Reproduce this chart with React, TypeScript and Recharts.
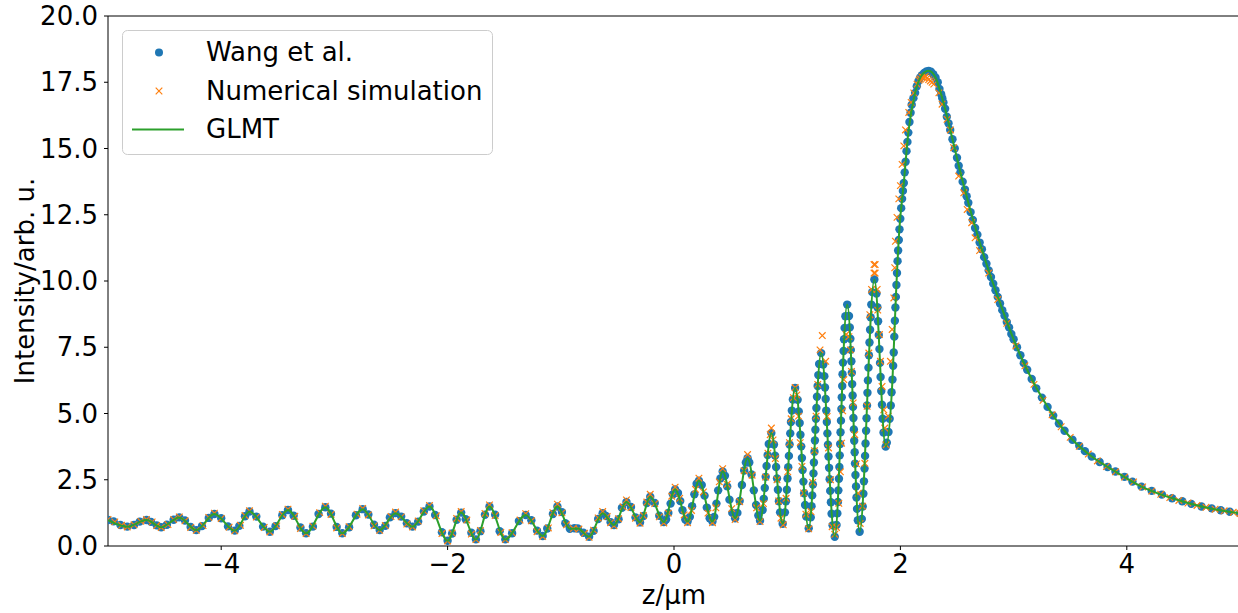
import { ComposedChart, Line, ReferenceLine, Scatter, XAxis, YAxis } from "recharts";

const FONT = '"DejaVu Sans", sans-serif';
const BLUE = "#1f77b4";
const ORANGE = "#ff7f0e";
const GREEN = "#2ca02c";

const xTicks = [-4, -2, 0, 2, 4];
const yTicks = [0, 2.5, 5, 7.5, 10, 12.5, 15, 17.5, 20];

// GLMT curve, [z (µm), intensity]
const glmtCurve: [number, number][] = [
  [-5.0, 0.98], [-4.83, 0.73], [-4.66, 0.98], [-4.53, 0.71], [-4.37, 1.08], [-4.22, 0.6],
  [-4.06, 1.21], [-3.88, 0.58], [-3.75, 1.3], [-3.57, 0.54], [-3.41, 1.36], [-3.25, 0.48],
  [-3.08, 1.46], [-2.93, 0.48], [-2.75, 1.39], [-2.6, 0.6], [-2.46, 1.24], [-2.31, 0.73],
  [-2.16, 1.49], [-2.0, 0.2], [-1.88, 1.26], [-1.75, 0.25], [-1.63, 1.49], [-1.49, 0.25],
  [-1.31, 1.17], [-1.16, 0.38], [-1.03, 1.49], [-0.92, 0.65], [-0.85, 0.66], [-0.75, 0.35],
  [-0.63, 1.24], [-0.53, 0.79], [-0.42, 1.66], [-0.3, 0.89], [-0.21, 1.86], [-0.09, 0.9],
  [0.01, 2.13], [0.12, 0.92], [0.22, 2.46], [0.34, 0.92], [0.43, 2.81], [0.54, 1.05],
  [0.65, 3.31], [0.76, 0.95], [0.86, 4.26], [0.96, 0.84], [1.07, 5.96], [1.19, 0.67],
  [1.3, 7.28], [1.42, 0.35], [1.53, 9.11], [1.64, 0.54], [1.77, 10.06], [1.87, 3.75],
  [1.93, 6.28], [1.96, 9.4], [1.99, 11.9], [2.03, 13.7], [2.07, 15.6], [2.13, 17.1],
  [2.19, 17.77], [2.25, 17.93], [2.31, 17.68], [2.38, 16.74], [2.46, 15.35], [2.53, 14.1],
  [2.6, 12.95], [2.68, 11.75], [2.76, 10.65], [2.84, 9.65], [2.92, 8.7], [3.0, 7.8],
  [3.08, 7.0], [3.16, 6.3], [3.25, 5.6], [3.37, 4.8], [3.52, 4.01], [3.69, 3.38],
  [3.9, 2.81], [4.13, 2.24], [4.4, 1.8], [4.66, 1.49], [5.0, 1.23],
];

// Wang et al. points
const wangLeft: [number, number][] = [
  [-5.0, 0.98], [-4.95, 0.93], [-4.89, 0.79], [-4.83, 0.73], [-4.77, 0.79], [-4.72, 0.92],
  [-4.66, 0.98], [-4.62, 0.91], [-4.57, 0.78], [-4.53, 0.71], [-4.48, 0.8], [-4.42, 0.99],
  [-4.37, 1.08], [-4.32, 0.96], [-4.27, 0.72], [-4.22, 0.6], [-4.17, 0.75], [-4.11, 1.06],
  [-4.06, 1.21], [-4.0, 1.05], [-3.94, 0.74], [-3.88, 0.58], [-3.84, 0.76], [-3.79, 1.12],
  [-3.75, 1.3], [-3.69, 1.11], [-3.63, 0.73], [-3.57, 0.54], [-3.52, 0.75], [-3.46, 1.16],
  [-3.41, 1.36], [-3.36, 1.14], [-3.3, 0.7], [-3.25, 0.48], [-3.19, 0.73], [-3.14, 1.21],
  [-3.08, 1.46], [-3.03, 1.22], [-2.98, 0.72], [-2.93, 0.48], [-2.87, 0.71], [-2.81, 1.16],
  [-2.75, 1.39], [-2.7, 1.19], [-2.65, 0.8], [-2.6, 0.6], [-2.55, 0.76], [-2.51, 1.08],
  [-2.46, 1.24], [-2.41, 1.11], [-2.36, 0.86], [-2.31, 0.73], [-2.26, 0.92], [-2.21, 1.3],
  [-2.16, 1.49], [-2.11, 1.17], [-2.05, 0.52], [-2.0, 0.2], [-1.96, 0.47], [-1.92, 0.99],
  [-1.88, 1.26], [-1.84, 1.01], [-1.79, 0.5], [-1.75, 0.25], [-1.71, 0.56], [-1.67, 1.18],
  [-1.63, 1.49], [-1.58, 1.18], [-1.54, 0.56], [-1.49, 0.25], [-1.43, 0.48], [-1.37, 0.94],
  [-1.31, 1.17], [-1.26, 0.97], [-1.21, 0.58], [-1.16, 0.38], [-1.12, 0.66], [-1.07, 1.21],
  [-1.03, 1.49], [-0.99, 1.28], [-0.96, 0.86], [-0.92, 0.65], [-0.88, 0.67], [-0.85, 0.66],
  [-0.8, 0.5], [-0.75, 0.35], [-0.71, 0.57], [-0.67, 1.02], [-0.63, 1.24], [-0.6, 1.13],
  [-0.56, 0.9], [-0.53, 0.79], [-0.49, 1.01], [-0.46, 1.44], [-0.42, 1.66], [-0.38, 1.47],
  [-0.34, 1.08], [-0.3, 0.89], [-0.27, 1.13], [-0.24, 1.62], [-0.21, 1.86], [-0.17, 1.62],
  [-0.13, 1.14], [-0.09, 0.9], [-0.07, 1.0], [-0.05, 1.25], [-0.03, 1.6], [-0.01, 1.95],
  [0.01, 2.13], [0.035, 2.0], [0.055, 1.7], [0.075, 1.35], [0.1, 1.0], [0.12, 0.92],
  [0.14, 1.1], [0.16, 1.5], [0.18, 1.95], [0.2, 2.35], [0.22, 2.46], [0.245, 2.3],
  [0.27, 1.9], [0.29, 1.45], [0.315, 1.05], [0.34, 0.92], [0.355, 1.1], [0.375, 1.6],
  [0.39, 2.1], [0.41, 2.55], [0.43, 2.81], [0.45, 2.65], [0.47, 2.25], [0.49, 1.75],
  [0.515, 1.25], [0.54, 1.05], [0.56, 1.25], [0.58, 1.7], [0.6, 2.3], [0.62, 2.85],
  [0.635, 3.15], [0.65, 3.31], [0.665, 3.15], [0.685, 2.7], [0.705, 2.1], [0.725, 1.55],
  [0.745, 1.15],
];

const wangSteep: [number, number][] = [
  [0.76, 0.95], [0.783, 1.36], [0.793, 1.78], [0.802, 2.19], [0.81, 2.61], [0.818, 3.02], [0.827, 3.43], [0.837, 3.85],
  [0.86, 4.26], [0.883, 3.83], [0.893, 3.41], [0.902, 2.98], [0.91, 2.55], [0.918, 2.12], [0.927, 1.69], [0.937, 1.27],
  [0.96, 0.84], [0.98, 1.27], [0.989, 1.69], [0.997, 2.12], [1.003, 2.55], [1.009, 2.97], [1.015, 3.4], [1.021, 3.83],
  [1.027, 4.25], [1.033, 4.68], [1.041, 5.11], [1.05, 5.53],
  [1.07, 5.96], [1.092, 5.52], [1.102, 5.08], [1.11, 4.64], [1.117, 4.2], [1.124, 3.76], [1.13, 3.32], [1.136, 2.87],
  [1.143, 2.43], [1.15, 1.99], [1.158, 1.55], [1.168, 1.11],
  [1.19, 0.67], [1.208, 1.08], [1.215, 1.5], [1.221, 1.91], [1.227, 2.32], [1.232, 2.74], [1.236, 3.15], [1.241, 3.56],
  [1.245, 3.98], [1.249, 4.39], [1.254, 4.8], [1.258, 5.21], [1.263, 5.63], [1.269, 6.04], [1.275, 6.45], [1.282, 6.87],
  [1.3, 7.28], [1.319, 6.85], [1.328, 6.41], [1.334, 5.98], [1.34, 5.55], [1.345, 5.11], [1.35, 4.68], [1.355, 4.25],
  [1.36, 3.82], [1.365, 3.38], [1.37, 2.95], [1.375, 2.52], [1.38, 2.08], [1.386, 1.65], [1.392, 1.22], [1.401, 0.78],
  [1.42, 0.35], [1.436, 0.79], [1.443, 1.23], [1.448, 1.66], [1.452, 2.1], [1.457, 2.54], [1.461, 2.98], [1.464, 3.42],
  [1.468, 3.85], [1.471, 4.29], [1.475, 4.73], [1.479, 5.17], [1.482, 5.61], [1.486, 6.04], [1.489, 6.48], [1.493, 6.92],
  [1.498, 7.36], [1.502, 7.8], [1.507, 8.23], [1.514, 8.67],
  [1.53, 9.11], [1.546, 8.68], [1.553, 8.25], [1.558, 7.82], [1.562, 7.4], [1.567, 6.97], [1.571, 6.54], [1.574, 6.11],
  [1.578, 5.68], [1.581, 5.25], [1.585, 4.83], [1.589, 4.4], [1.592, 3.97], [1.596, 3.54], [1.599, 3.11], [1.603, 2.68],
  [1.608, 2.25], [1.612, 1.83], [1.617, 1.4], [1.624, 0.97],
  [1.64, 0.54], [1.659, 1.02], [1.667, 1.49], [1.673, 1.97], [1.678, 2.44], [1.683, 2.92], [1.688, 3.4], [1.692, 3.87],
  [1.697, 4.35], [1.701, 4.82], [1.705, 5.3], [1.709, 5.78], [1.713, 6.25], [1.718, 6.73], [1.722, 7.2], [1.727, 7.68],
  [1.732, 8.16], [1.737, 8.63], [1.743, 9.11], [1.751, 9.58],
  [1.77, 10.06], [1.789, 9.53], [1.797, 9.01], [1.803, 8.48], [1.809, 7.96], [1.815, 7.43], [1.82, 6.91], [1.825, 6.38],
  [1.831, 5.85], [1.837, 5.33], [1.843, 4.8], [1.851, 4.28],
  [1.87, 3.75], [1.88, 3.9], [1.895, 4.3], [1.905, 4.8], [1.915, 5.3], [1.922, 5.8], [1.93, 6.28], [1.936, 6.8],
  [1.941, 7.3], [1.946, 7.9], [1.951, 8.5], [1.956, 9.0], [1.96, 9.4], [1.965, 9.85], [1.97, 10.3], [1.975, 10.75],
  [1.98, 11.15], [1.986, 11.55], [1.992, 11.95], [1.999, 12.35], [2.007, 12.75], [2.015, 13.1], [2.022, 13.4], [2.03, 13.7],
  [2.038, 14.1], [2.046, 14.5], [2.054, 14.9], [2.062, 15.25], [2.07, 15.6], [2.08, 16.0], [2.09, 16.35], [2.1, 16.65],
  [2.115, 16.9], [2.13, 17.1], [2.145, 17.35], [2.16, 17.55], [2.175, 17.68], [2.19, 17.77], [2.21, 17.85], [2.23, 17.91],
  [2.25, 17.93], [2.27, 17.9], [2.29, 17.8], [2.31, 17.68],
];

const wangTail: [number, number][] = [
  [2.33, 17.5], [2.345, 17.25], [2.36, 17.05], [2.37, 16.9], [2.38, 16.74], [2.395, 16.5], [2.41, 16.2], [2.425, 15.95],
  [2.44, 15.7], [2.46, 15.35], [2.48, 15.0], [2.5, 14.65], [2.515, 14.35], [2.53, 14.1], [2.55, 13.75], [2.57, 13.45],
  [2.585, 13.2], [2.6, 12.95], [2.62, 12.6], [2.64, 12.3], [2.66, 12.0], [2.68, 11.75], [2.7, 11.45], [2.72, 11.2],
  [2.74, 10.9], [2.76, 10.65], [2.78, 10.4], [2.8, 10.15], [2.82, 9.9], [2.84, 9.65], [2.86, 9.4], [2.88, 9.15],
  [2.9, 8.9], [2.92, 8.7], [2.94, 8.45], [2.96, 8.25], [2.98, 8.0], [3.0, 7.8], [3.03, 7.5], [3.06, 7.2],
  [3.09, 6.9], [3.12, 6.65], [3.16, 6.3], [3.2, 5.95], [3.25, 5.6], [3.3, 5.25], [3.35, 4.92], [3.4, 4.62],
  [3.45, 4.35], [3.52, 4.01], [3.58, 3.78], [3.63, 3.58], [3.69, 3.38], [3.76, 3.17], [3.83, 2.98], [3.9, 2.81],
  [3.98, 2.61], [4.05, 2.43], [4.13, 2.24], [4.22, 2.08], [4.31, 1.94], [4.4, 1.8], [4.49, 1.69], [4.57, 1.59],
  [4.66, 1.49], [4.75, 1.42], [4.83, 1.35], [4.91, 1.29], [5.0, 1.23],
];

// Numerical simulation points
const simLeft: [number, number][] = [
  [-5.0, 1.0], [-4.94, 0.91], [-4.88, 0.78], [-4.83, 0.72], [-4.77, 0.8], [-4.71, 0.93],
  [-4.66, 1.0], [-4.61, 0.91], [-4.57, 0.77], [-4.53, 0.7], [-4.47, 0.81], [-4.42, 1.0],
  [-4.37, 1.1], [-4.32, 0.95], [-4.27, 0.7], [-4.22, 0.59], [-4.16, 0.77], [-4.11, 1.08],
  [-4.06, 1.24], [-4.0, 1.04], [-3.93, 0.71], [-3.88, 0.57], [-3.83, 0.78], [-3.79, 1.15],
  [-3.75, 1.33], [-3.69, 1.09], [-3.62, 0.7], [-3.57, 0.53], [-3.51, 0.76], [-3.46, 1.19],
  [-3.41, 1.39], [-3.35, 1.12], [-3.3, 0.66], [-3.25, 0.47], [-3.19, 0.75], [-3.13, 1.26],
  [-3.08, 1.5], [-3.03, 1.19], [-2.98, 0.68], [-2.93, 0.47], [-2.87, 0.73], [-2.8, 1.2],
  [-2.75, 1.42], [-2.7, 1.17], [-2.65, 0.76], [-2.6, 0.59], [-2.55, 0.77], [-2.5, 1.11],
  [-2.46, 1.28], [-2.41, 1.1], [-2.36, 0.83], [-2.31, 0.72], [-2.26, 0.94], [-2.21, 1.33],
  [-2.16, 1.53], [-2.1, 1.14], [-2.05, 0.47], [-2.0, 0.19], [-1.96, 0.49], [-1.92, 1.04],
  [-1.88, 1.3], [-1.83, 0.98], [-1.79, 0.45], [-1.75, 0.24], [-1.71, 0.59], [-1.67, 1.23],
  [-1.63, 1.55], [-1.58, 1.15], [-1.53, 0.51], [-1.49, 0.24], [-1.43, 0.5], [-1.36, 0.98],
  [-1.31, 1.22], [-1.26, 0.95], [-1.21, 0.54], [-1.16, 0.36], [-1.11, 0.68], [-1.07, 1.26],
  [-1.03, 1.58], [-0.99, 1.25], [-0.95, 0.8], [-0.89, 0.66], [-0.84, 0.64], [-0.79, 0.48],
  [-0.75, 0.33], [-0.71, 0.6], [-0.67, 1.06], [-0.63, 1.3], [-0.59, 1.11], [-0.56, 0.88],
  [-0.53, 0.76], [-0.49, 1.03], [-0.45, 1.48], [-0.42, 1.74], [-0.38, 1.45], [-0.34, 1.05],
  [-0.3, 0.86], [-0.27, 1.15], [-0.24, 1.66], [-0.21, 1.95], [-0.17, 1.6], [-0.13, 1.1],
  [-0.09, 0.87], [-0.05, 1.24], [-0.02, 1.88], [0.01, 2.22], [0.05, 1.8], [0.09, 1.17],
  [0.12, 0.88], [0.155, 1.34], [0.19, 2.14], [0.22, 2.56], [0.26, 2.04], [0.3, 1.24],
  [0.34, 0.88], [0.37, 1.44], [0.4, 2.42], [0.43, 2.92], [0.47, 2.33], [0.51, 1.41],
  [0.54, 1.0], [0.58, 1.67], [0.62, 2.84], [0.65, 3.45], [0.69, 2.67], [0.73, 1.44],
];

const simSteep: [number, number][] = [
  [0.76, 0.92], [0.79, 1.6], [0.81, 2.6], [0.83, 3.5], [0.85, 4.2], [0.86, 4.45],
  [0.875, 4.0], [0.895, 3.3], [0.91, 2.5], [0.925, 1.7], [0.945, 1.05],
  [0.965, 0.8], [0.99, 1.8], [1.005, 2.8], [1.02, 3.9], [1.035, 4.8], [1.055, 5.6], [1.07, 5.98],
  [1.085, 5.7], [1.1, 4.9], [1.115, 3.9], [1.13, 3.0], [1.145, 2.0], [1.165, 1.2], [1.19, 0.65],
  [1.21, 1.3], [1.225, 2.4], [1.24, 3.6], [1.255, 4.9], [1.27, 6.1], [1.29, 7.4], [1.31, 7.94],
  [1.34, 6.97], [1.353, 4.89], [1.365, 3.7], [1.383, 2.5], [1.397, 0.73], [1.42, 0.44],
  [1.435, 0.7], [1.456, 1.61], [1.47, 2.8], [1.48, 3.88], [1.49, 5.1], [1.5, 6.28], [1.52, 7.98],
  [1.545, 7.9], [1.558, 7.4], [1.568, 6.59], [1.583, 5.4], [1.597, 4.2], [1.612, 3.1], [1.627, 1.99], [1.645, 0.85],
  [1.665, 1.5], [1.686, 3.12], [1.706, 5.27], [1.721, 7.28], [1.73, 8.73], [1.745, 9.68],
  [1.767, 10.3], [1.777, 10.3], [1.767, 10.62], [1.777, 10.62],
  [1.795, 9.68], [1.8, 8.9], [1.815, 7.98], [1.824, 6.97], [1.838, 6.02], [1.853, 5.14], [1.862, 4.45], [1.873, 3.82],
  [1.893, 4.9], [1.912, 6.97], [1.927, 8.17], [1.942, 9.36], [1.95, 10.5], [1.956, 11.5], [1.97, 12.4], [1.986, 13.1],
  [2.0, 13.6], [2.015, 14.4], [2.03, 15.1], [2.045, 15.7], [2.074, 16.36], [2.095, 16.74], [2.118, 17.1], [2.147, 17.43],
  [2.165, 17.58], [2.177, 17.62], [2.19, 17.7], [2.206, 17.68], [2.22, 17.72], [2.236, 17.66], [2.25, 17.6],
  [2.265, 17.55], [2.28, 17.5], [2.295, 17.43], [2.34, 17.1], [2.368, 16.67], [2.412, 16.1], [2.442, 15.7],
  [2.47, 15.03], [2.515, 13.96], [2.56, 13.33], [2.59, 12.7], [2.63, 12.2], [2.66, 11.63],
];

const simTail: [number, number][] = [
  [2.7, 11.15], [2.78, 10.3], [2.86, 9.3], [2.94, 8.4], [3.02, 7.55], [3.1, 6.8], [3.18, 6.1], [3.26, 5.5],
  [3.34, 4.95], [3.42, 4.5], [3.5, 4.1], [3.58, 3.76], [3.66, 3.47], [3.74, 3.21], [3.82, 3.0], [3.9, 2.8],
  [3.98, 2.6], [4.06, 2.42], [4.14, 2.23], [4.22, 2.07], [4.3, 1.95], [4.38, 1.83], [4.46, 1.72], [4.54, 1.62],
  [4.62, 1.53], [4.7, 1.46], [4.78, 1.39], [4.86, 1.33], [4.94, 1.27], [5.0, 1.23],
];

const toRows = (pts: [number, number][]) => pts.map(([z, I]) => ({ z, I }));

const glmtRows = toRows(glmtCurve);
const wangRows = toRows([...wangLeft, ...wangSteep, ...wangTail]);
const simRows = toRows([...simLeft, ...simSteep, ...simTail]);

const tickStyle = { fill: "#000", fontSize: 26, fontFamily: FONT };

function Dot(props: any) {
  return <circle cx={props.cx} cy={props.cy} r={4.2} fill={BLUE} />;
}

function Cross(props: any) {
  const { cx, cy } = props;
  const s = 3.3;
  return (
    <path
      d={`M${cx - s},${cy - s}L${cx + s},${cy + s}M${cx - s},${cy + s}L${cx + s},${cy - s}`}
      stroke={ORANGE}
      strokeWidth={1.2}
      fill="none"
    />
  );
}

function ChartLegend() {
  return (
    <svg width={1238} height={613} style={{ position: "absolute", left: 0, top: 0, pointerEvents: "none" }}>
      <rect x={122.5} y={30.5} width={370} height={124} rx={5} fill="rgba(255,255,255,0.8)" stroke="#cccccc" />
      <circle cx={159} cy={52.5} r={4} fill={BLUE} />
      <path d="M155.7,87.7L162.3,94.3M155.7,94.3L162.3,87.7" stroke={ORANGE} strokeWidth={1.2} />
      <line x1={132} y1={129.5} x2={184} y2={129.5} stroke={GREEN} strokeWidth={2} />
      <g fontFamily={FONT} fontSize={26} fill="#000">
        <text x={206} y={61}>Wang et al.</text>
        <text x={206} y={100}>Numerical simulation</text>
        <text x={206} y={138}>GLMT</text>
      </g>
    </svg>
  );
}

export default function App() {
  return (
    <div
      style={{
        position: "absolute",
        left: 0,
        top: 0,
        width: 1238,
        height: 613,
        overflow: "hidden",
        background: "#fff",
      }}
    >
      <ComposedChart width={1240} height={613} margin={{ top: 16, right: 0, bottom: 0, left: 0 }}>
        <XAxis
          dataKey="z"
          type="number"
          domain={[-5, 5]}
          ticks={xTicks}
          allowDataOverflow
          tick={tickStyle}
          tickFormatter={(v: number) => String(v).replace("-", "\u2212")}
          tickSize={4}
          tickMargin={5}
          height={67}
          axisLine={{ stroke: "#000" }}
          tickLine={{ stroke: "#000" }}
          label={{
            content: (p: any) => (
              <text
                x={p.viewBox.x + p.viewBox.width / 2}
                y={604}
                textAnchor="middle"
                fontFamily={FONT}
                fontSize={26}
                fill="#000"
              >
                z/μm
              </text>
            ),
          }}
        />
        <YAxis
          type="number"
          domain={[0, 20]}
          ticks={yTicks}
          allowDataOverflow
          tick={tickStyle}
          tickFormatter={(v: number) => v.toFixed(1)}
          tickSize={4}
          tickMargin={6}
          width={108}
          axisLine={{ stroke: "#000" }}
          tickLine={{ stroke: "#000" }}
          label={{
            content: (p: any) => {
              const cy = p.viewBox.y + p.viewBox.height / 2;
              return (
                <text
                  x={34}
                  y={cy}
                  transform={`rotate(-90, 34, ${cy})`}
                  textAnchor="middle"
                  fontFamily={FONT}
                  fontSize={26}
                  fill="#000"
                >
                  Intensity/arb. u.
                </text>
              );
            },
          }}
        />
        <ReferenceLine y={20} stroke="#000" />
        <Scatter data={wangRows} dataKey="I" shape={Dot} isAnimationActive={false} zIndex={600} />
        <Scatter data={simRows} dataKey="I" shape={Cross} isAnimationActive={false} zIndex={610} />
        <Line
          data={glmtRows}
          dataKey="I"
          type="monotone"
          stroke={GREEN}
          strokeWidth={2}
          dot={false}
          activeDot={false}
          isAnimationActive={false}
          zIndex={620}
        />
      </ComposedChart>
      <ChartLegend />
    </div>
  );
}
